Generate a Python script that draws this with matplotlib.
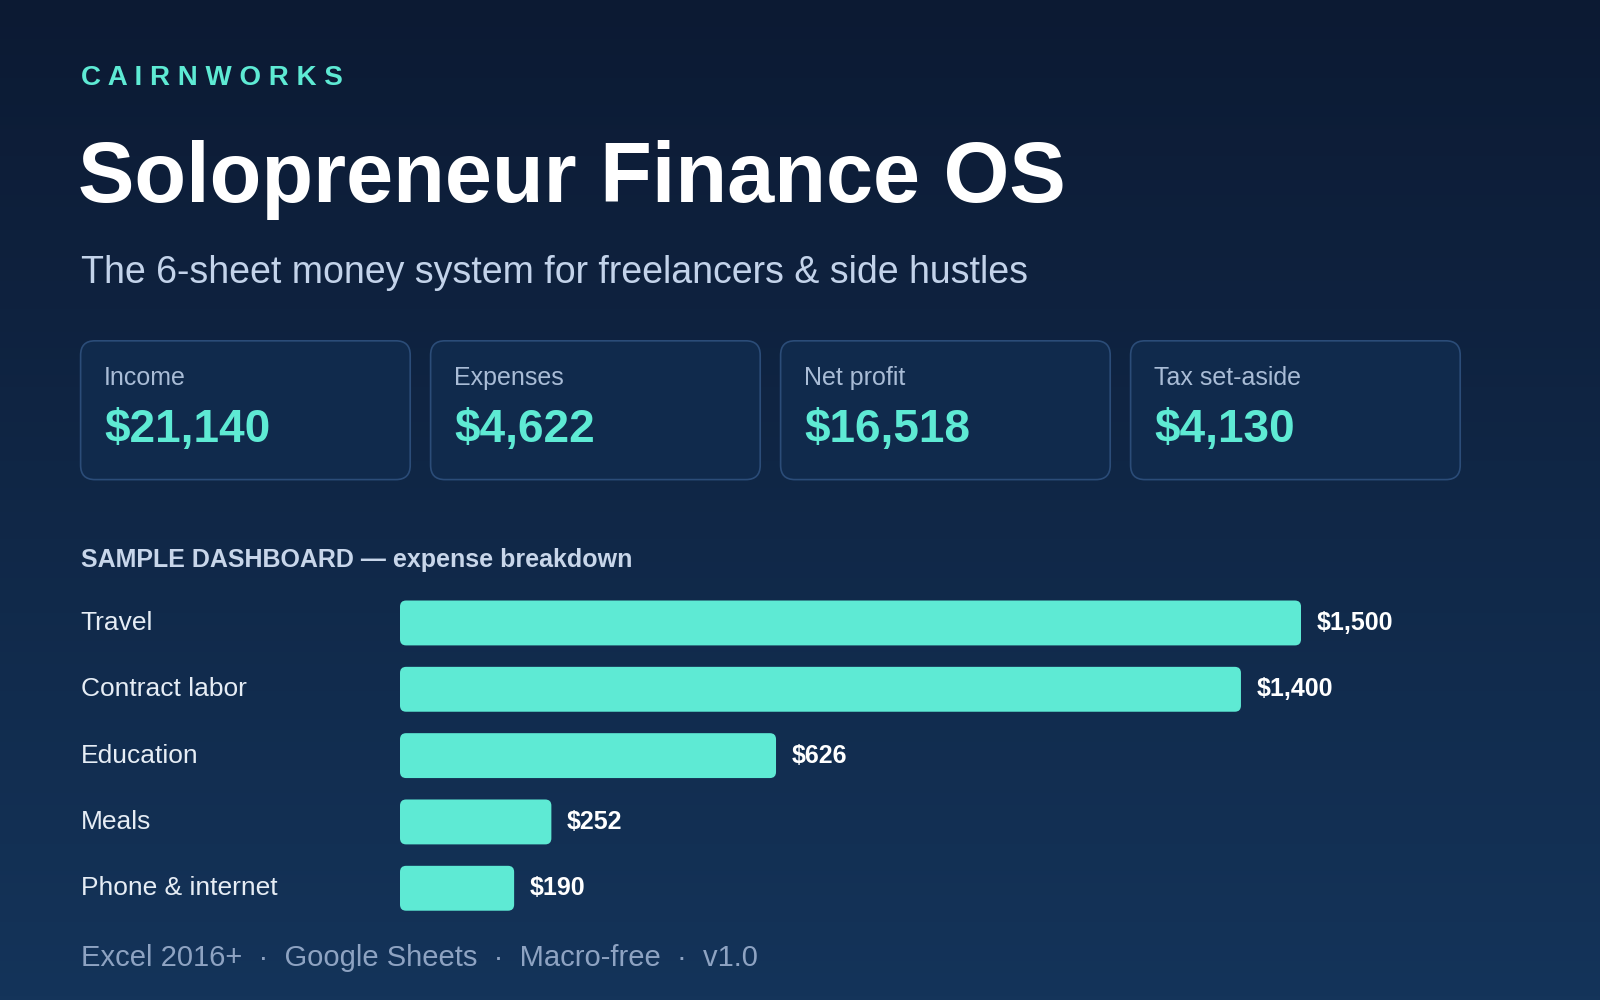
import numpy as np
import matplotlib
matplotlib.use("Agg")
import matplotlib.pyplot as plt
from matplotlib.patches import FancyBboxPatch

plt.rcParams['font.family'] = ['Liberation Sans', 'DejaVu Sans']

brand = "C A I R N W O R K S"
title = "Solopreneur Finance OS"
subtitle = "The 6-sheet money system for freelancers & side hustles"
kpi_labels = ["Income", "Expenses", "Net profit", "Tax set-aside"]
kpi_values = ["$21,140", "$4,622", "$16,518", "$4,130"]
section = "SAMPLE DASHBOARD — expense breakdown"
categories = ["Travel", "Contract labor", "Education", "Meals", "Phone & internet"]
amounts = [1500, 1400, 626, 252, 190]
footer = ["Excel 2016+", "Google Sheets", "Macro-free", "v1.0"]

W, H = 1568, 980
fig = plt.figure(figsize=(16, 10), dpi=100)
ax = fig.add_axes([0, 0, 1, 1])
ax.set_xlim(0, W); ax.set_ylim(H, 0); ax.axis('off')

# background gradient
top = np.array([12, 26, 51]) / 255; bot = np.array([20, 52, 90]) / 255
t = np.linspace(0, 1, 256)[:, None]
grad = top + (bot - top) * t
ax.imshow(grad[:, None, :].repeat(2, axis=1), extent=[0, W, H, 0], aspect='auto', zorder=0)

teal = '#5eead4'
ax.text(79, 76, brand, color=teal, fontsize=20, fontweight='bold', va='center')
ax.text(76, 176, title, color='white', fontsize=61, fontweight='bold', va='center')
ax.text(79, 268, subtitle, color='#c3d3ea', fontsize=27, va='center')

xs = [79, 422, 765, 1108]
for x, lab, val in zip(xs, kpi_labels, kpi_values):
    ax.add_patch(FancyBboxPatch((x, 334), 323, 136, boxstyle="round,pad=0,rounding_size=14",
                                fc='#102a4c', ec='#2b4c78', lw=1.2, zorder=2))
    ax.text(x + 23, 370, lab, color='#a9bcd6', fontsize=18, va='center', zorder=3)
    ax.text(x + 23, 421, val, color=teal, fontsize=33, fontweight='bold', va='center', zorder=3)

ax.text(79, 549, section, color='#c8d6ea', fontsize=18, fontweight='bold', va='center')

sep = "  ·  "
ax.text(79, 939, sep.join(footer), color='#8ea3c2', fontsize=21, va='center')

# bars
bx0, bx1 = 392, 1275
by0, by1 = 578, 903
bax = fig.add_axes([bx0 / W, 1 - by1 / H, (bx1 - bx0) / W, (by1 - by0) / H])
bax.set_xlim(0, 1500); bax.set_ylim(len(categories) - 0.5, -0.5)
bax.axis('off'); bax.patch.set_alpha(0)
hgt = 44 / 65
ypos = np.arange(len(categories))
bars = bax.barh(ypos, amounts, height=hgt, color='none')
xpp = 1500 / (bx1 - bx0); ypp = 1 / 65
for b, v, c, y in zip(bars, amounts, categories, ypos):
    bax.add_patch(FancyBboxPatch((b.get_x(), b.get_y()), b.get_width(), b.get_height(),
                                 boxstyle=f"round,pad=0,rounding_size={6 * xpp}",
                                 mutation_aspect=ypp / xpp, fc=teal, ec='none'))
    bax.text(v + 15 * xpp, y, f"${v:,}", color='white', fontsize=18, fontweight='bold',
             va='center', clip_on=False)
    bax.text(-(392 - 79) * xpp, y, c, color='#e6edf5', fontsize=19, va='center', clip_on=False)

fig.savefig("out.png", dpi=100)
